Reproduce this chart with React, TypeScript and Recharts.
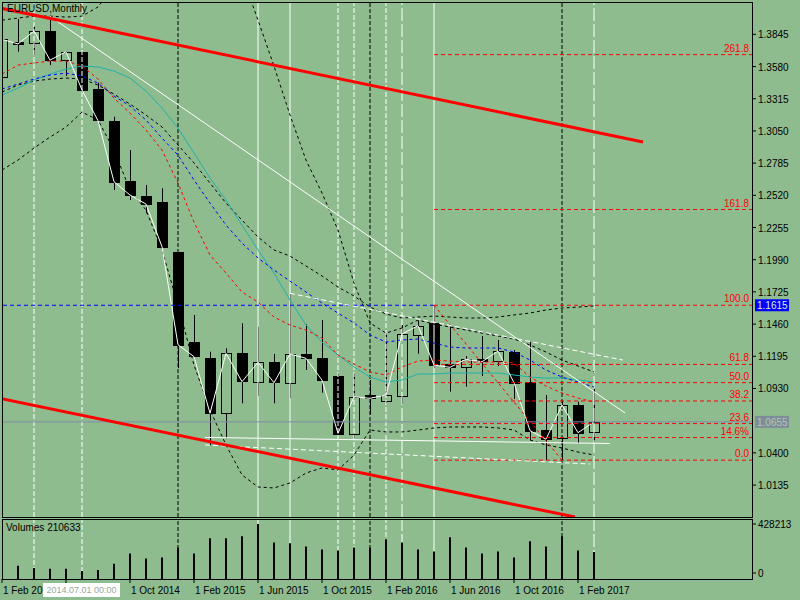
import React from "react";
import { ComposedChart, Bar, Line, XAxis, YAxis, ReferenceLine } from "recharts";

// EURUSD monthly, Feb 2014 .. Mar 2017
const months = [
  "2014-02", "2014-03", "2014-04", "2014-05", "2014-06", "2014-07", "2014-08", "2014-09", "2014-10", "2014-11", "2014-12",
  "2015-01", "2015-02", "2015-03", "2015-04", "2015-05", "2015-06", "2015-07", "2015-08", "2015-09", "2015-10", "2015-11", "2015-12",
  "2016-01", "2016-02", "2016-03", "2016-04", "2016-05", "2016-06", "2016-07", "2016-08", "2016-09", "2016-10", "2016-11", "2016-12",
  "2017-01", "2017-02", "2017-03",
];
const opens = [1.3491, 1.378, 1.3771, 1.3872, 1.3639, 1.3702, 1.3392, 1.3131, 1.2634, 1.2514, 1.2467, 1.2055, 1.131, 1.1178, 1.0726, 1.1219, 1.0981, 1.1145, 1.0973, 1.1214, 1.1178, 1.1035, 1.0561, 1.0876, 1.083, 1.0871, 1.1376, 1.1466, 1.1129, 1.1104, 1.117, 1.1152, 1.123, 1.0986, 1.0588, 1.052, 1.0794, 1.0569];
const highs = [1.3825, 1.3971, 1.3913, 1.3977, 1.3703, 1.3702, 1.3447, 1.3167, 1.2893, 1.2605, 1.2578, 1.2055, 1.1535, 1.1233, 1.1261, 1.1466, 1.1438, 1.1214, 1.1708, 1.1458, 1.1494, 1.1057, 1.1055, 1.1, 1.1384, 1.1452, 1.149, 1.1615, 1.1438, 1.1197, 1.1362, 1.1329, 1.1247, 1.1315, 1.0876, 1.0829, 1.0821, 1.093];
const lows = [1.3477, 1.3702, 1.3675, 1.3592, 1.3502, 1.3366, 1.3131, 1.2564, 1.2481, 1.2372, 1.2096, 1.1098, 1.1186, 1.0462, 1.052, 1.0808, 1.087, 1.0808, 1.0849, 1.1082, 1.0895, 1.0556, 1.052, 1.0716, 1.0808, 1.0802, 1.1216, 1.1098, 1.0904, 1.0945, 1.1033, 1.1115, 1.0844, 1.0505, 1.0341, 1.034, 1.0479, 1.0487];
const closes = [1.3804, 1.3766, 1.3872, 1.3633, 1.3702, 1.3387, 1.3134, 1.2632, 1.2522, 1.2448, 1.2097, 1.129, 1.1192, 1.0726, 1.1219, 1.0986, 1.1145, 1.0977, 1.1214, 1.1178, 1.0999, 1.0561, 1.0862, 1.0849, 1.0876, 1.1378, 1.1447, 1.1123, 1.1104, 1.117, 1.115, 1.1238, 1.0977, 1.0583, 1.0512, 1.0794, 1.0566, 1.0655];
const volumes = [null, 103000, 85000, 79000, 79000, 63000, 71000, 119000, 198000, 159000, 167000, 246000, 198000, 317000, 317000, 333000, 428213, 285000, 278000, 254000, 230000, 222000, 246000, 246000, 309000, 285000, 230000, 214000, 325000, 246000, 198000, 214000, 167000, 293000, 254000, 333000, 222000, 210633];

// indicator lines
const fastMa = [1.3518, 1.3592, 1.3609, 1.3625, 1.3625, 1.3584, 1.3477, 1.332, 1.3197, 1.3057, 1.2893, 1.2621, 1.23, 1.2028, 1.188, 1.1724, 1.1642, 1.1518, 1.1452, 1.1411, 1.1345, 1.1205, 1.1131, 1.1066, 1.1041, 1.1107, 1.1156, 1.1164, 1.1156, 1.1148, 1.1148, 1.1148, 1.114, 1.1024, 1.095, 1.0893, 1.0851, 1.0818];
const blueMa = [1.3395, 1.3436, 1.3477, 1.351, 1.3526, 1.3502, 1.3444, 1.3337, 1.3255, 1.314, 1.2991, 1.2851, 1.2646, 1.2456, 1.2275, 1.2127, 1.2004, 1.1905, 1.1814, 1.1724, 1.1633, 1.1551, 1.1469, 1.137, 1.1312, 1.1329, 1.1337, 1.1304, 1.1271, 1.1263, 1.1263, 1.1263, 1.123, 1.1164, 1.1082, 1.1024, 1.0983, 1.0942];
const tealMa = [1.3345, 1.3403, 1.3469, 1.3518, 1.3559, 1.3584, 1.3576, 1.3543, 1.3485, 1.3378, 1.3238, 1.3074, 1.2868, 1.2662, 1.2481, 1.2275, 1.207, 1.188, 1.1658, 1.1452, 1.1312, 1.1205, 1.1107, 1.1024, 1.0983, 1.1, 1.1049, 1.1049, 1.1057, 1.1057, 1.1057, 1.1057, 1.1041, 1.1024, 1.1016, 1.1016, 1.1, 1.0983];
const blackMa = [1.337, 1.3428, 1.346, 1.3477, 1.3485, 1.3477, 1.3428, 1.3353, 1.3271, 1.3181, 1.3082, 1.2934, 1.2786, 1.2621, 1.2456, 1.2316, 1.2177, 1.207, 1.202, 1.1938, 1.1856, 1.1765, 1.1691, 1.16, 1.1543, 1.151, 1.1518, 1.1526, 1.1518, 1.151, 1.151, 1.1518, 1.1535, 1.1551, 1.1576, 1.1592, 1.16, 1.1609];
const bandUpper = [1.3962, 1.3979, 1.3995, 1.3995, 1.3987, 1.3995, 1.407, 1.425, 1.44, 1.455, 1.47, 1.48, 1.48, 1.47, 1.455, 1.4333, 1.3962, 1.3584, 1.3181, 1.281, 1.2539, 1.2234, 1.1798, 1.1469, 1.1386, 1.1428, 1.1493, 1.146, 1.1436, 1.1411, 1.1386, 1.1362, 1.1337, 1.1288, 1.123, 1.1164, 1.1115, 1.1066];
const bandLower = [1.2728, 1.281, 1.2909, 1.2999, 1.3082, 1.3205, 1.314, 1.2893, 1.2563, 1.2399, 1.207, 1.1617, 1.1123, 1.0753, 1.0465, 1.0218, 1.0119, 1.0111, 1.0152, 1.0234, 1.0276, 1.0259, 1.0382, 1.0588, 1.0572, 1.0572, 1.0588, 1.0605, 1.0613, 1.0613, 1.0613, 1.0605, 1.0588, 1.0506, 1.0465, 1.044, 1.0407, 1.0382];

const priceTicks = [1.3845, 1.358, 1.3315, 1.305, 1.2785, 1.252, 1.2255, 1.199, 1.1725, 1.146, 1.1195, 1.093, 1.04, 1.0135];
const fibNames = ["261.8", "161.8", "100.0", "61.8", "50.0", "38.2", "23.6", "14.6%", "0.0"];
const fibPrices = [1.3678, 1.2403, 1.1615, 1.1128, 1.0978, 1.0827, 1.0641, 1.0526, 1.034];
const fibStart = 27;
const lastPrice = 1.0655;
const swingHigh = 1.1615;
const volumeMax = 428213;

// "1 Jun 2014" sits under the crosshair time box, so only its tick mark shows
const timeTicks = [0, 4, 8, 12, 16, 20, 24, 28, 32, 36];
const timeLabels = ["1 Feb 2014", "", "1 Oct 2014", "1 Feb 2015", "1 Jun 2015", "1 Oct 2015", "1 Feb 2016", "1 Jun 2016", "1 Oct 2016", "1 Feb 2017"];

// period separators (month index)
const whiteDashMonths = [2, 5, 21, 22, 24];
const whiteLongDashMonths = [25, 37];
const whiteSolidMonths = [16, 18, 27];
const blackDashMonths = [11, 23, 35];

// drawn objects: [monthIdx, price] pairs
const channelTop = [[-0.125, 1.4062], [40.06, 1.2959]];
const channelBottom = [[-0.125, 1.0848], [35.81, 0.9872]];
const trendLong = [[3, 1.3993], [38.94, 1.0728]];
const trendDashed = [[18, 1.1713], [38.8, 1.1164]];
const supportSolid = [[12.69, 1.0527], [38.0, 1.0477]];
const supportDashed = [[12.69, 1.0465], [36.75, 1.0308]];
const fibDiagonal = [[27, 1.1615], [35, 1.034]];

const rows = months.map((m, i) => ({
  i,
  month: m,
  open: opens[i],
  high: highs[i],
  low: lows[i],
  close: closes[i],
  range: [lows[i], highs[i]],
  vol: volumes[i],
  fast: fastMa[i],
  blue: blueMa[i],
  teal: tealMa[i],
  black: blackMa[i],
  upper: bandUpper[i],
  lower: bandLower[i],
}));

const BG = "#8fbc8f";
const FONT = "'Liberation Sans', Arial, sans-serif";
const FS = 10;
const X_DOMAIN = [0.0625, 46.875];
const VOL_DOMAIN = [0, 459400];

function Candle(props: any) {
  const { x, y, width, height, payload } = props;
  if (x == null || y == null) return null;
  const top = Math.min(y, y + height);
  const h = Math.abs(height);
  const span = payload.high - payload.low || 1;
  const yOf = (v: number) => top + ((payload.high - v) / span) * h;
  const cx = Math.round(x + width / 2) + 0.5;
  const yo = yOf(payload.open);
  const yc = yOf(payload.close);
  const bull = payload.close >= payload.open;
  const bt = Math.round(Math.min(yo, yc)) + 0.5;
  const bh = Math.max(Math.round(Math.abs(yc - yo)), 1);
  return (
    <g>
      <line x1={cx} x2={cx} y1={top} y2={top + h} stroke="#000" strokeWidth={1} />
      <rect x={cx - 5} y={bt} width={10} height={bh} fill={bull ? BG : "#000"} stroke="#000" strokeWidth={1} />
    </g>
  );
}

function PriceTick(props: any) {
  const { x, y, payload } = props;
  return (
    <g>
      <line x1={x} x2={x + 4} y1={y} y2={y} stroke="#000" />
      <text x={x + 6} y={y + 4} fontSize={FS} fontFamily={FONT} fill="#000">
        {payload.value.toFixed(4)}
      </text>
    </g>
  );
}

function VolumeTick(props: any) {
  const { x, y, payload } = props;
  const yy = payload.value === 0 ? y - 6 : y;
  return (
    <g>
      <line x1={x} x2={x + 4} y1={yy} y2={yy} stroke="#000" />
      <text x={x + 6} y={yy + 4} fontSize={FS} fontFamily={FONT} fill="#000">
        {payload.value}
      </text>
    </g>
  );
}

function TimeTick(props: any) {
  const { x, y, payload } = props;
  const k = timeTicks.indexOf(payload.value);
  const label = timeLabels[k];
  return (
    <g>
      <line x1={x} x2={x} y1={y} y2={y + 4} stroke="#000" />
      {label ? (
        <text x={x + 1} y={y + 15} fontSize={FS} fontFamily={FONT} fill="#000">
          {label}
        </text>
      ) : null}
    </g>
  );
}

function priceTag(value: string, bg: string, fg: string) {
  return (p: any) => {
    const vb = p.viewBox || {};
    const cy = vb.y;
    return (
      <g>
        <rect x={755} y={cy - 6} width={34} height={12} fill={bg} />
        <text x={757} y={cy + 4} fontSize={FS} fontFamily={FONT} fill={fg}>
          {value}
        </text>
      </g>
    );
  };
}

function verticals(keyPrefix: string) {
  const out: any[] = [];
  whiteDashMonths.forEach((m) =>
    out.push(<ReferenceLine key={keyPrefix + "wd" + m} x={m} stroke="#fff" strokeDasharray="5 2" />)
  );
  whiteLongDashMonths.forEach((m) =>
    out.push(<ReferenceLine key={keyPrefix + "wl" + m} x={m} stroke="#fff" strokeDasharray="13 3" />)
  );
  whiteSolidMonths.forEach((m) =>
    out.push(<ReferenceLine key={keyPrefix + "ws" + m} x={m} stroke="#fff" />)
  );
  blackDashMonths.forEach((m) =>
    out.push(<ReferenceLine key={keyPrefix + "bd" + m} x={m} stroke="#000" strokeDasharray="4 2" />)
  );
  return out;
}

const seg = (pts: number[][]) => pts.map(([x, y]) => ({ x, y }));
const volMargin = { top: 1, right: 0, bottom: 0, left: 3 };

export default function App() {
  return (
    <div style={{ position: "absolute", left: 0, top: 0, width: 800, height: 600, background: BG, overflow: "hidden" }}>
      <div style={{ position: "absolute", left: 0, top: 0 }}>
        <ComposedChart width={800} height={519} data={rows} margin={{ top: 3, right: 0, bottom: 2, left: 3 }}>
          <XAxis dataKey="i" type="number" domain={X_DOMAIN} allowDataOverflow hide />
          <YAxis
            orientation="right"
            width={48}
            domain={[0.9872, 1.4103]}
            allowDataOverflow
            ticks={priceTicks}
            interval={0}
            tickSize={0}
            tickMargin={0}
            axisLine={false}
            tickLine={false}
            tick={<PriceTick />}
          />
          {verticals("m")}
          <Bar dataKey="range" barSize={11} shape={<Candle />} isAnimationActive={false} />
          <Line dataKey="upper" stroke="#000" strokeDasharray="3 3" dot={false} isAnimationActive={false} />
          <Line dataKey="lower" stroke="#000" strokeDasharray="3 3" dot={false} isAnimationActive={false} />
          <Line dataKey="black" stroke="#000" strokeDasharray="3 3" dot={false} isAnimationActive={false} />
          <Line dataKey="teal" stroke="#20b2aa" dot={false} isAnimationActive={false} />
          <Line dataKey="blue" stroke="#0000ff" strokeDasharray="3 3" dot={false} isAnimationActive={false} />
          <Line dataKey="fast" stroke="#ff0000" strokeDasharray="3 3" dot={false} isAnimationActive={false} />
          <Line dataKey="close" stroke="#fff" dot={false} isAnimationActive={false} />

          <ReferenceLine y={lastPrice} stroke="#7f8aa8" ifOverflow="hidden" label={priceTag("1.0655", "#7f8c99", "#b0c8b0")} />
          <ReferenceLine
            segment={[{ x: X_DOMAIN[0], y: swingHigh }, { x: fibStart, y: swingHigh }]}
            stroke="#0000ff"
            strokeDasharray="4 3"
            ifOverflow="hidden"
          />
          <ReferenceLine y={swingHigh} stroke="none" label={priceTag("1.1615", "#0000ff", "#d8f0d0")} />
          {fibPrices.map((p, k) => (
            <ReferenceLine
              key={"fib" + k}
              segment={[{ x: fibStart, y: p }, { x: X_DOMAIN[1], y: p }]}
              stroke="#ff0000"
              strokeDasharray="4 3"
              ifOverflow="hidden"
              label={{ value: fibNames[k], position: "insideBottomRight", offset: 3, fill: "#ff0000", fontSize: FS, fontFamily: FONT }}
            />
          ))}
          <ReferenceLine segment={seg(fibDiagonal)} stroke="#ff0000" strokeDasharray="3 3" ifOverflow="hidden" />
          <ReferenceLine segment={seg(trendLong)} stroke="#fff" ifOverflow="hidden" />
          <ReferenceLine segment={seg(trendDashed)} stroke="#fff" strokeDasharray="5 3" ifOverflow="hidden" />
          <ReferenceLine segment={seg(supportSolid)} stroke="#fff" ifOverflow="hidden" />
          <ReferenceLine segment={seg(supportDashed)} stroke="#fff" strokeDasharray="5 3" ifOverflow="hidden" />
          <ReferenceLine segment={seg(channelTop)} stroke="#ff0000" strokeWidth={3} ifOverflow="hidden" />
          <ReferenceLine segment={seg(channelBottom)} stroke="#ff0000" strokeWidth={3} ifOverflow="hidden" />
        </ComposedChart>
      </div>

      {/* volume pane: axes and separators underneath */}
      <div style={{ position: "absolute", left: 0, top: 519 }}>
        <ComposedChart width={800} height={81} data={rows} margin={volMargin}>
          <XAxis
            dataKey="i"
            type="number"
            domain={X_DOMAIN}
            allowDataOverflow
            ticks={timeTicks}
            interval={0}
            height={21}
            tickSize={0}
            tickMargin={0}
            axisLine={false}
            tickLine={false}
            tick={<TimeTick />}
          />
          <YAxis
            orientation="right"
            width={48}
            domain={VOL_DOMAIN}
            allowDataOverflow
            ticks={[0, volumeMax]}
            interval={0}
            tickSize={0}
            tickMargin={0}
            axisLine={false}
            tickLine={false}
            tick={<VolumeTick />}
          />
          {verticals("v")}
        </ComposedChart>
      </div>

      {/* volume bars on top of the separators */}
      <div style={{ position: "absolute", left: 0, top: 519 }}>
        <ComposedChart width={800} height={81} data={rows} margin={volMargin}>
          <XAxis dataKey="i" type="number" domain={X_DOMAIN} allowDataOverflow height={21} tick={false} axisLine={false} tickLine={false} />
          <YAxis orientation="right" width={48} domain={VOL_DOMAIN} allowDataOverflow tick={false} axisLine={false} tickLine={false} />
          <Bar dataKey="vol" barSize={2} fill="#000" isAnimationActive={false} />
        </ComposedChart>
      </div>

      {/* pane frames */}
      <div style={{ position: "absolute", left: 2, top: 2, width: 749, height: 514, border: "1px solid #000", pointerEvents: "none" }} />
      <div style={{ position: "absolute", left: 2, top: 519, width: 749, height: 59, border: "1px solid #000", pointerEvents: "none" }} />

      <div style={{ position: "absolute", left: 7, top: 3, fontFamily: FONT, fontSize: FS, color: "#000", lineHeight: "12px", whiteSpace: "nowrap" }}>
        EURUSD,Monthly
      </div>
      <div style={{ position: "absolute", left: 6, top: 522, fontFamily: FONT, fontSize: FS, color: "#000", lineHeight: "12px", whiteSpace: "nowrap" }}>
        Volumes 210633
      </div>
      <div
        style={{
          position: "absolute",
          left: 43,
          top: 583,
          width: 77,
          height: 14,
          background: "#fff",
          color: "#9aa89a",
          fontFamily: FONT,
          fontSize: 9,
          lineHeight: "14px",
          textAlign: "center",
          whiteSpace: "nowrap",
          overflow: "hidden",
        }}
      >
        2014.07.01 00:00
      </div>
    </div>
  );
}
